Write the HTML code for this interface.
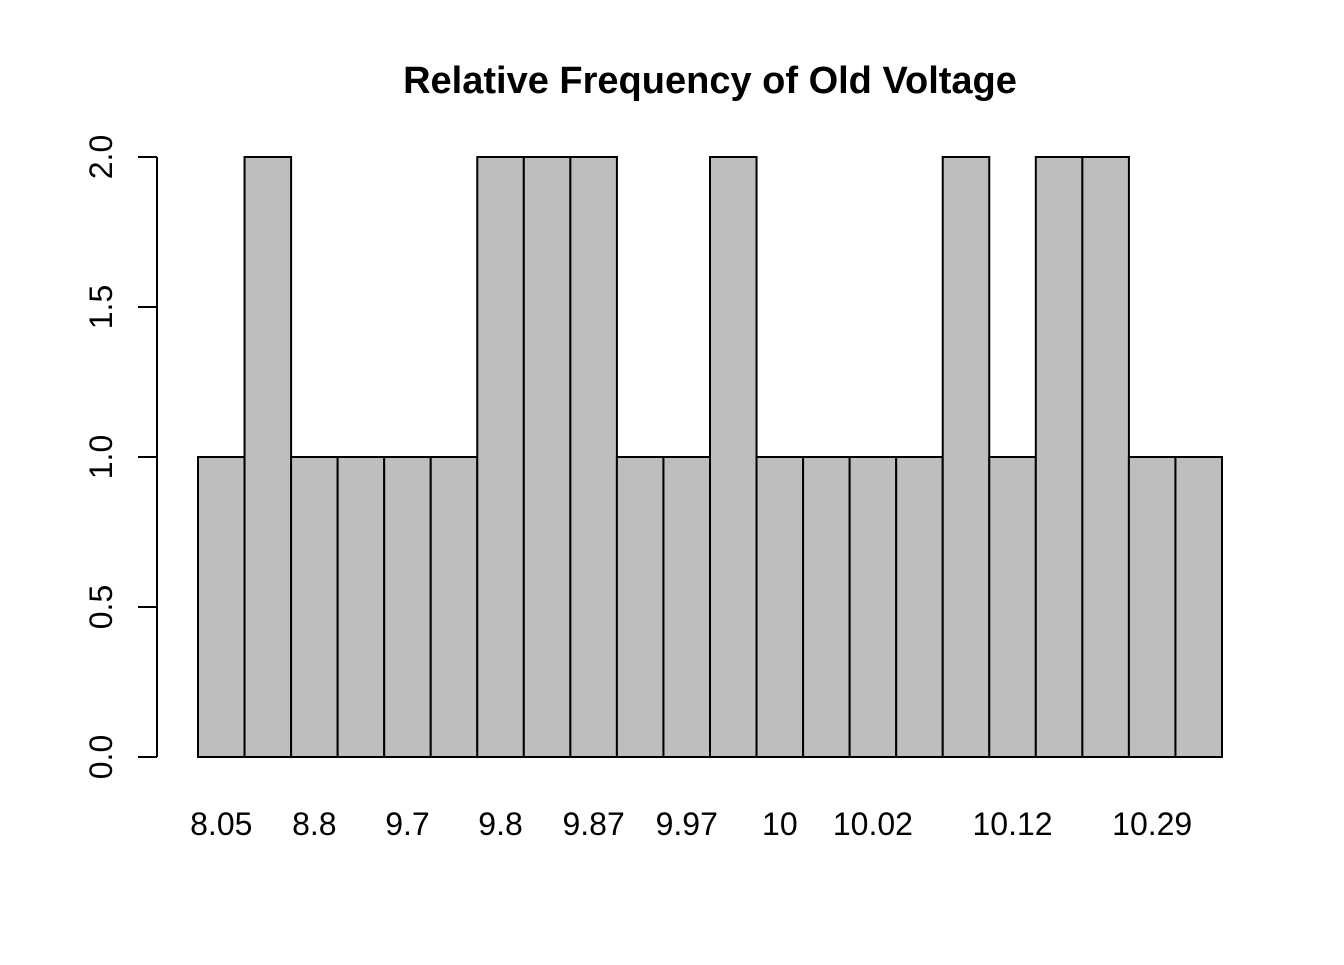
<!DOCTYPE html>
<html><head><meta charset="utf-8"><style>
html,body{margin:0;padding:0;background:#fff;}
svg text{font-family:"Liberation Sans",sans-serif;}
</style></head>
<body>
<svg id="chart" width="1344" height="960">
<text x="710" y="93" text-anchor="middle" font-size="38" font-weight="bold">Relative Frequency of Old Voltage</text>
<g id="bars"></g>
<g id="xlabels"></g>
<g id="yaxis"></g>
</svg>
<script>
const categories = ["8.05","8.72","8.8","9.55","9.7","9.76","9.8","9.84","9.87","9.95","9.97","9.98","10","10.01","10.02","10.05","10.08","10.12","10.15","10.26","10.29","10.35"];
const counts = [1,2,1,1,1,1,2,2,2,1,1,2,1,1,1,1,2,1,2,2,1,1];
const yTicks = [0,0.5,1,1.5,2];
const yTickLabels = ["0.0","0.5","1.0","1.5","2.0"];

const NS="http://www.w3.org/2000/svg";
const plotL=198, plotR=1222, y0=757, yTop=157, yMax=2;
const bw=(plotR-plotL)/categories.length;
const xPos=i=>plotL+i*bw;
const yPos=v=>y0-(v/yMax)*(y0-yTop);
const bars=document.getElementById('bars');
counts.forEach((c,i)=>{
  const r=document.createElementNS(NS,'rect');
  r.setAttribute('x',xPos(i));r.setAttribute('y',yPos(c));
  r.setAttribute('width',bw);r.setAttribute('height',yPos(0)-yPos(c));
  r.setAttribute('fill','#bebebe');r.setAttribute('stroke','#000');r.setAttribute('stroke-width','2');
  
  
  bars.appendChild(r);
});
const xl=document.getElementById('xlabels');
let lastEnd=-1e9; const gap=30;
categories.forEach((c,i)=>{
  const t=document.createElementNS(NS,'text');
  t.setAttribute('x',xPos(i)+bw/2);t.setAttribute('y',835);
  t.setAttribute('text-anchor','middle');t.setAttribute('font-size','32');
  t.textContent=c;
  
  
  xl.appendChild(t);
  const w=t.getComputedTextLength();
  const s=xPos(i)+bw/2-w/2;
  if(s<lastEnd+gap){xl.removeChild(t);}else{lastEnd=s+w;}
});
const ya=document.getElementById('yaxis');
const ln=document.createElementNS(NS,'line');
ln.setAttribute('x1',157);ln.setAttribute('x2',157);ln.setAttribute('y1',yPos(yTicks[0]));ln.setAttribute('y2',yPos(yTicks[yTicks.length-1]));
ln.setAttribute('stroke','#000');ln.setAttribute('stroke-width','2');


ya.appendChild(ln);
yTicks.forEach((v,i)=>{
  const tk=document.createElementNS(NS,'line');
  tk.setAttribute('x1',138);tk.setAttribute('x2',157);tk.setAttribute('y1',yPos(v));tk.setAttribute('y2',yPos(v));
  tk.setAttribute('stroke','#000');tk.setAttribute('stroke-width','2');
  
  
  ya.appendChild(tk);
  const t=document.createElementNS(NS,'text');
  t.setAttribute('transform','translate(112,'+yPos(v)+') rotate(-90)');
  t.setAttribute('text-anchor','middle');t.setAttribute('font-size','32');
  t.textContent=yTickLabels[i];
  
  
  ya.appendChild(t);
});
</script>
</body></html>
